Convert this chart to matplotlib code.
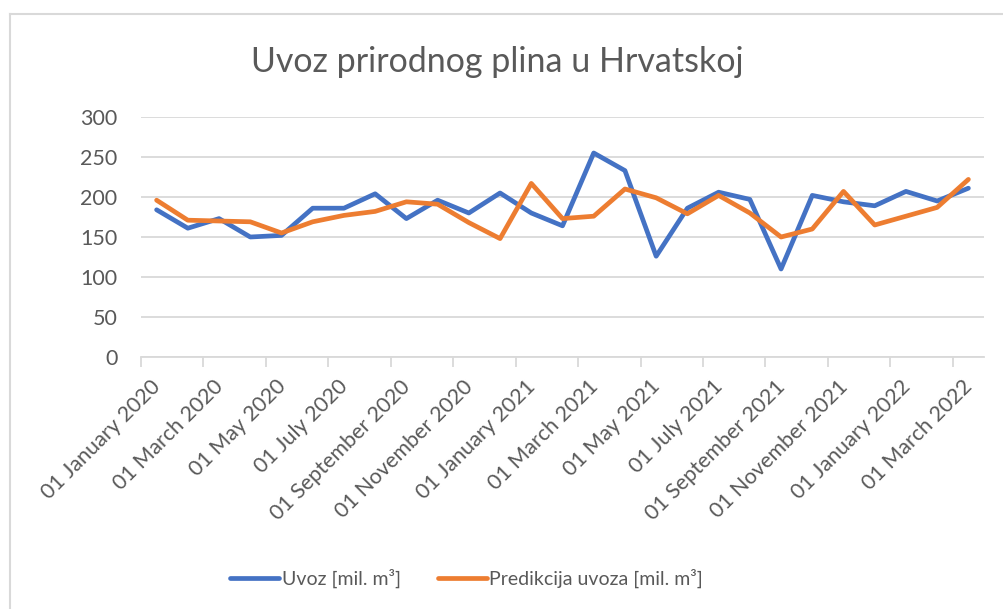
import matplotlib
matplotlib.use("Agg")
import matplotlib.pyplot as plt
from matplotlib.lines import Line2D
from matplotlib.transforms import ScaledTranslation

months = ["01 January 2020", "01 February 2020", "01 March 2020", "01 April 2020",
          "01 May 2020", "01 June 2020", "01 July 2020", "01 August 2020",
          "01 September 2020", "01 October 2020", "01 November 2020", "01 December 2020",
          "01 January 2021", "01 February 2021", "01 March 2021", "01 April 2021",
          "01 May 2021", "01 June 2021", "01 July 2021", "01 August 2021",
          "01 September 2021", "01 October 2021", "01 November 2021", "01 December 2021",
          "01 January 2022", "01 February 2022", "01 March 2022"]

uvoz = [184, 161, 173, 150, 152, 186, 186, 204, 173, 196, 180, 205, 180, 164,
        255, 233, 126, 186, 206, 197, 110, 202, 194, 189, 207, 195, 211]

predikcija = [196, 171, 170, 169, 155, 169, 177, 182, 194, 191, 168, 148, 217, 173,
              176, 210, 199, 179, 202, 180, 150, 160, 207, 165, 176, 187, 222]

title = "Uvoz prirodnog plina u Hrvatskoj"
label_uvoz = "Uvoz [mil. m³]"
label_pred = "Predikcija uvoza [mil. m³]"

BLUE = "#4472C4"
ORANGE = "#ED7D31"
TXT = "#595959"
GRID = "#D9D9D9"
FONT = ["Lato", "DejaVu Sans"]

W, H = 1004, 609
fig = plt.figure(figsize=(W / 100, H / 100), dpi=100)
fig.patch.set_facecolor("white")

# chart border (left and top edges visible)
fig.add_artist(Line2D([10 / W, 10 / W], [0, 1 - 14 / H], transform=fig.transFigure,
                      color=GRID, lw=1.5))
fig.add_artist(Line2D([10 / W, 1], [1 - 14 / H, 1 - 14 / H], transform=fig.transFigure,
                      color=GRID, lw=1.5))

left, right = 141 / W, 984 / W
bottom, top = 1 - 357 / H, 1 - 117 / H
ax = fig.add_axes([left, bottom, right - left, top - bottom])

x = list(range(len(months)))
ax.plot(x, uvoz, color=BLUE, lw=3.4, solid_joinstyle="round", solid_capstyle="round",
        label=label_uvoz, zorder=3)
ax.plot(x, predikcija, color=ORANGE, lw=3.4, solid_joinstyle="round", solid_capstyle="round",
        label=label_pred, zorder=4)

ax.set_xlim(-0.5, len(months) - 0.5)
ax.set_ylim(0, 300)
ax.set_yticks(range(0, 301, 50))
ax.yaxis.grid(True, color=GRID, lw=1.3)
ax.set_axisbelow(True)
for s in ["top", "right", "left"]:
    ax.spines[s].set_visible(False)
ax.spines["bottom"].set_color(GRID)
ax.spines["bottom"].set_linewidth(1.3)

ax.tick_params(axis="y", length=0, pad=17, labelsize=15.5, labelcolor=TXT)
for lbl in ax.get_yticklabels():
    lbl.set_fontfamily(FONT)

label_pos = x[::2]
ax.set_xticks(label_pos)
ax.set_xticklabels([months[i] for i in label_pos], rotation=45, ha="right",
                   rotation_mode="anchor", fontsize=15.5, color=TXT, family=FONT)
ax.tick_params(axis="x", which="major", length=0, pad=14)
shift = ScaledTranslation(-6 / 100, 0, fig.dpi_scale_trans)
for lbl in ax.get_xticklabels():
    lbl.set_transform(lbl.get_transform() + shift)
ax.set_xticks([i - 0.5 for i in range(0, len(months) + 1, 2)], minor=True)
ax.tick_params(axis="x", which="minor", length=7, color=GRID, width=1.3)

fig.text(0.495, 1 - 62 / H, title, ha="center", va="center", fontsize=24.5,
         color=TXT, family=FONT)

leg = fig.legend(handles=[Line2D([], [], color=BLUE, lw=3.4, solid_capstyle="round"),
                          Line2D([], [], color=ORANGE, lw=3.4, solid_capstyle="round")],
                 labels=[label_uvoz, label_pred], loc="center",
                 bbox_to_anchor=(0.465, 1 - 578 / H), ncol=2, frameon=False,
                 prop={"family": FONT, "size": 14}, handlelength=2.5,
                 handletextpad=0.15, columnspacing=1.9)
for t in leg.get_texts():
    t.set_color(TXT)

fig.savefig("out.png", dpi=100, facecolor="white")
